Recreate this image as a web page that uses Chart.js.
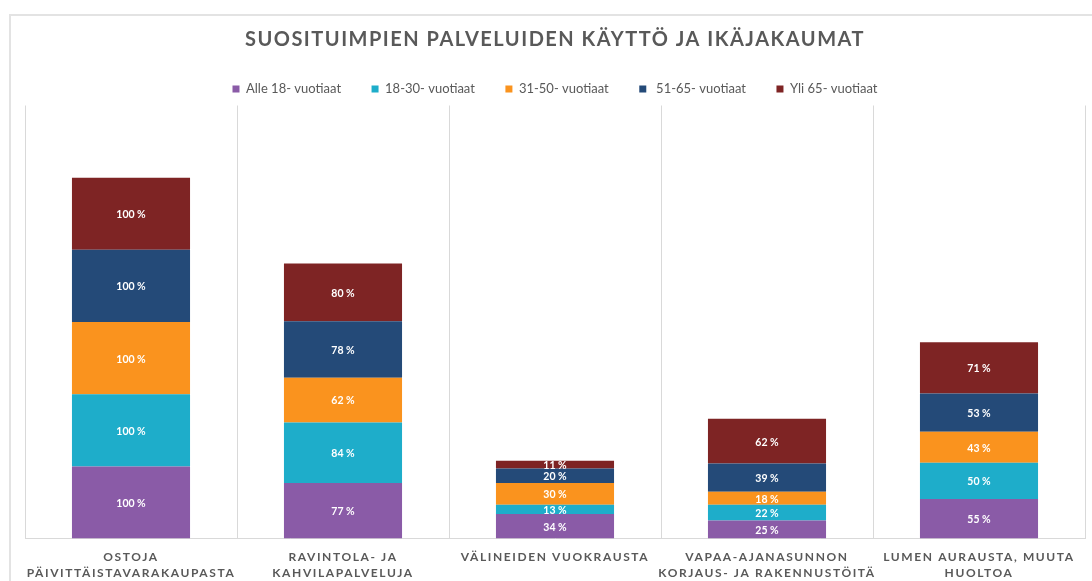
<!DOCTYPE html>
<html>
<head>
<meta charset="utf-8">
<script src="https://cdn.jsdelivr.net/npm/chart.js@4"></script>
<style>
    html, body { margin: 0; padding: 0; background: #fff; }
    #wrap { width: 1092px; height: 581px; }
</style>
</head>
<body>
<div id="wrap"><canvas id="chart" width="1092" height="581"></canvas></div>
<script>
    const categories = [
        ["OSTOJA", "PÄIVITTÄISTAVARAKAUPASTA"],
        ["RAVINTOLA- JA", "KAHVILAPALVELUJA"],
        ["VÄLINEIDEN VUOKRAUSTA"],
        ["VAPAA-AJANASUNNON", "KORJAUS- JA RAKENNUSTÖITÄ"],
        ["LUMEN AURAUSTA, MUUTA", "HUOLTOA"]
    ];
    const seriesNames = ["Alle 18- vuotiaat", "18-30- vuotiaat", "31-50- vuotiaat", " 51-65- vuotiaat", "Yli 65- vuotiaat"];
    const alle18 = [100, 77, 34, 25, 55];
    const v18to30 = [100, 84, 13, 22, 50];
    const v31to50 = [100, 62, 30, 18, 43];
    const v51to65 = [100, 78, 20, 39, 53];
    const yli65 = [100, 80, 11, 62, 71];
    const colors = ["#8a5ba7", "#1eadca", "#fa931e", "#244a78", "#7e2424"];

    const TEXT_COLOR = "#595959";
    const GRID_COLOR = "#d9d9d9";

    function withSpacing(obj, method, spacing) {
        if (!obj || obj["_spaced_" + method]) {
            return;
        }
        var orig = obj[method];
        obj[method] = function () {
            var ctx = this.ctx;
            ctx.save();
            ctx.letterSpacing = spacing;
            orig.apply(this, arguments);
            ctx.restore();
        };
        obj["_spaced_" + method] = true;
    }

    var frame = {
        id: "frame",
        beforeDraw(chart) {
            var ctx = chart.ctx;
            ctx.save();
            ctx.strokeStyle = "#e3e3e3";
            ctx.lineWidth = 2;
            ctx.strokeRect(10, 15, 1200, 700);
            ctx.restore();

            withSpacing(chart.titleBlock, "draw", "1.5px");
            withSpacing(chart.scales.x, "drawLabels", "1.6px");
        }
    };

    var valueLabels = {
        id: "valueLabels",
        afterDatasetsDraw(chart) {
            var ctx = chart.ctx;
            ctx.save();
            ctx.font = "bold 10.5px Lato";
            ctx.fillStyle = "#ffffff";
            ctx.textAlign = "center";
            ctx.textBaseline = "middle";
            chart.data.datasets.forEach((ds, i) => {
                chart.getDatasetMeta(i).data.forEach((bar, j) => {
                    var p = bar.getCenterPoint();
                    ctx.fillText(`${ds.data[j]} %`, p.x, p.y + 1);
                });
            });
            ctx.restore();
        }
    };

    var series = [alle18, v18to30, v31to50, v51to65, yli65];

    new Chart(document.getElementById("chart"), {
        type: "bar",
        data: {
            labels: categories,
            datasets: series.map((data, idx) => ({
                label: seriesNames[idx],
                data: data,
                backgroundColor: colors[idx],
                borderWidth: 0,
                categoryPercentage: 1,
                barPercentage: 0.557
            }))
        },
        options: {
            responsive: false,
            animation: false,
            layout: {
                padding: { left: 25, right: 7, top: 0, bottom: -10 }
            },
            scales: {
                x: {
                    stacked: true,
                    grid: {
                        color: GRID_COLOR,
                        drawTicks: false,
                        offset: true
                    },
                    border: { color: GRID_COLOR },
                    ticks: {
                        color: TEXT_COLOR,
                        padding: 10,
                        maxRotation: 0,
                        autoSkip: false,
                        font: { family: "Lato", size: 12, weight: "bold", lineHeight: 1.35 }
                    }
                },
                y: {
                    stacked: true,
                    display: false,
                    min: 0,
                    max: 600
                }
            },
            plugins: {
                title: {
                    display: true,
                    text: "SUOSITUIMPIEN PALVELUIDEN KÄYTTÖ JA IKÄJAKAUMAT",
                    color: TEXT_COLOR,
                    font: { family: "Lato", size: 20, weight: "bold" },
                    padding: { top: 28, bottom: 0 }
                },
                legend: {
                    labels: {
                        color: TEXT_COLOR,
                        boxWidth: 7,
                        boxHeight: 7,
                        padding: 30.5,
                        font: { family: "Lato", size: 13 }
                    }
                },
                tooltip: { enabled: false }
            }
        },
        plugins: [frame, valueLabels]
    });
</script>
</body>
</html>
